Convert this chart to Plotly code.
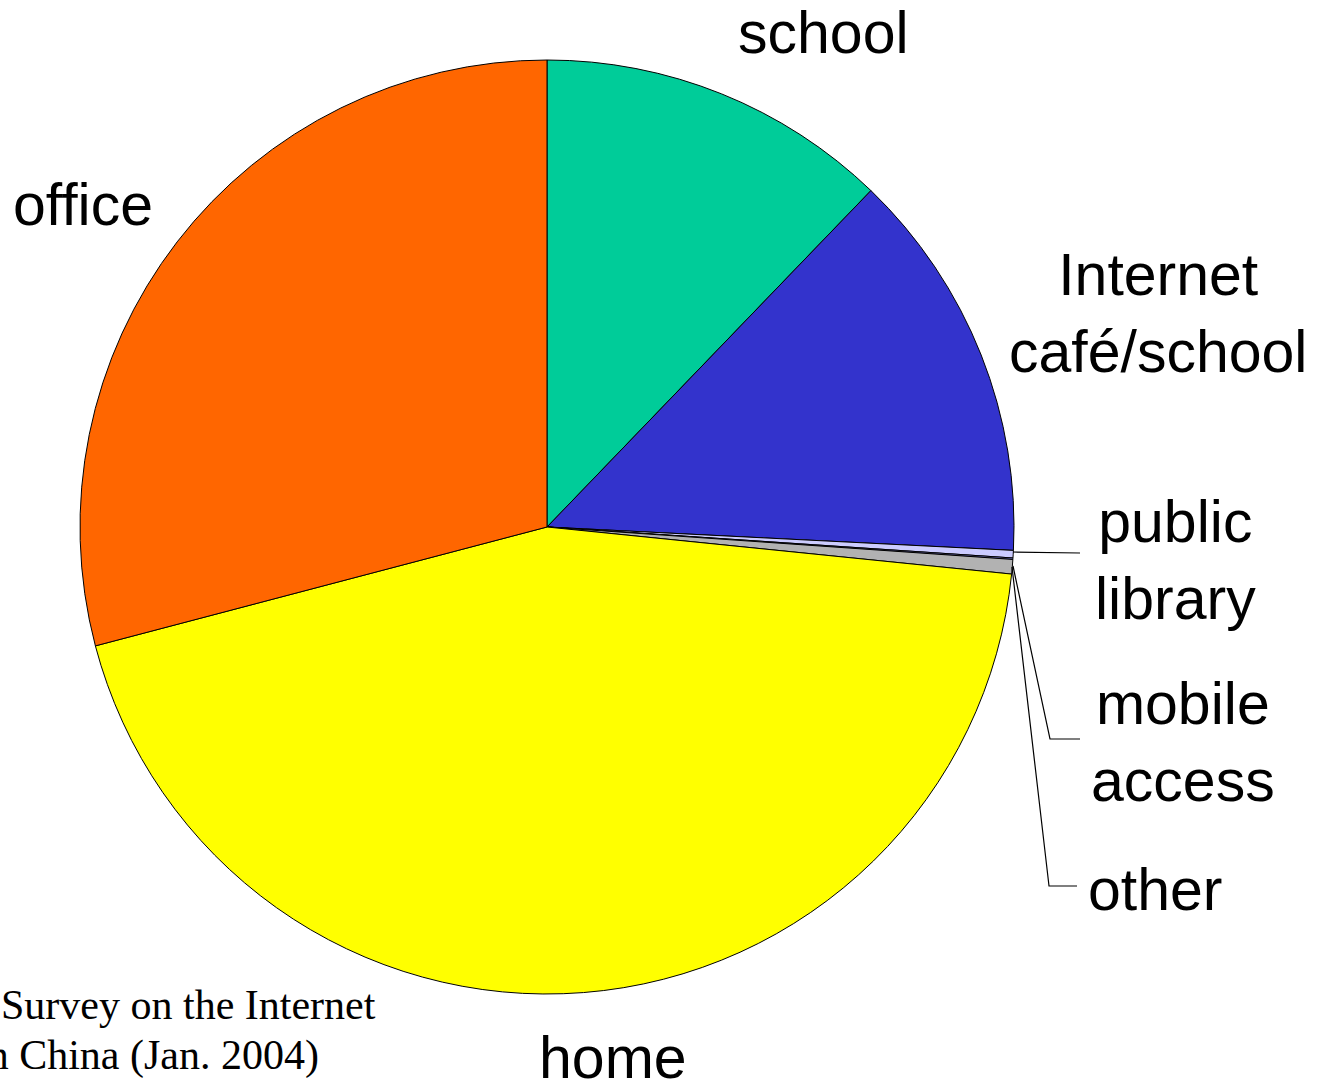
import plotly.graph_objects as go

W, H = 1328, 1087

categories = ["school", "Internet café/school", "public library", "mobile access", "other", "home", "office"]
values = [12.2, 13.6, 0.26, 0.05, 0.5, 44.3, 29.1]
colors = ["#00CC99", "#3333CC", "#CCCCFF", "#9999FF", "#B2B2B2", "#FFFF00", "#FF6600"]

label_text = ["school", "Internet<br>café/school", "public<br>library", "mobile<br>access", "other", "home", "office"]
label_pos = [(823, 33), (1158, 313), (1175, 560), (1183, 742), (1155, 890), (613, 1058), (83, 205)]


def px(x):
    return x / W


def py(y):
    return 1 - y / H


fig = go.Figure(go.Pie(
    labels=categories,
    values=values,
    sort=False,
    direction="clockwise",
    rotation=0,
    marker=dict(colors=colors, line=dict(color="black", width=1)),
    textinfo="none",
    hoverinfo="label+percent",
    showlegend=False,
    domain=dict(x=[px(80), px(1014)], y=[py(994), py(60)]),
))

annotations = []
for t, (x, y) in zip(label_text, label_pos):
    annotations.append(dict(
        x=px(x), y=py(y), xref="paper", yref="paper", text=t, showarrow=False,
        xanchor="center", yanchor="middle",
        font=dict(family="Liberation Sans, Arial, sans-serif", size=59, color="black"),
    ))

source_lines = [("Survey on the Internet", 378, 1005), ("in China (Jan. 2004)", 321, 1055)]
for t, xr, yc in source_lines:
    annotations.append(dict(
        x=px(xr), y=py(yc), xref="paper", yref="paper", text=t, showarrow=False,
        xanchor="right", yanchor="middle",
        font=dict(family="Liberation Serif, Times New Roman, serif", size=42, color="black"),
    ))

leaders = [
    [(1013, 552), (1080, 553)],
    [(1013, 566), (1050, 739), (1080, 739)],
    [(1012, 567), (1049, 886), (1077, 886)],
]
shapes = []
for pts in leaders:
    path = "M " + " L ".join(f"{px(x)},{py(y)}" for x, y in pts)
    shapes.append(dict(type="path", xref="paper", yref="paper", path=path,
                       line=dict(color="black", width=1.2)))

fig.update_layout(
    width=W, height=H,
    margin=dict(l=0, r=0, t=0, b=0),
    paper_bgcolor="white", plot_bgcolor="white",
    annotations=annotations, shapes=shapes,
)

fig.write_html("out.html")
